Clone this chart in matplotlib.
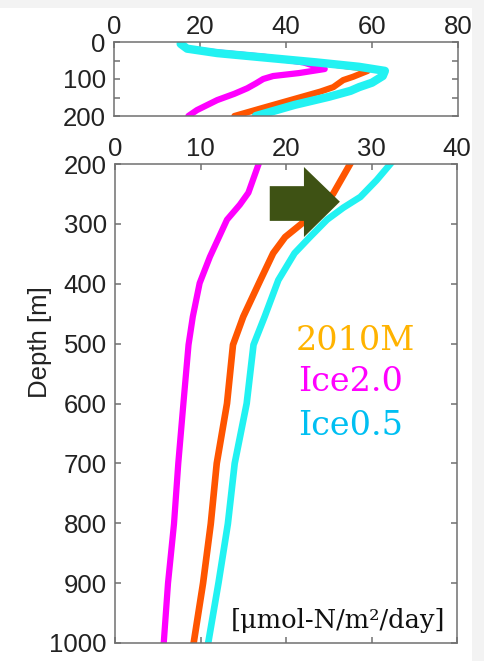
import numpy as np
import matplotlib
matplotlib.use("Agg")
import matplotlib.pyplot as plt
from matplotlib.patches import Rectangle, Polygon

plt.rcParams['font.family'] = ['Liberation Sans', 'DejaVu Sans']

# upper panel, 0-200 m
top_mag_d = [5, 18, 28, 40, 55, 73, 84, 92, 100, 112, 125, 140, 157, 184, 200]
top_mag_x = [15.5, 17, 24, 35, 44, 49, 43, 37, 34.7, 33, 31, 28, 24, 19.3, 17.3]
top_org_d = [5, 18, 30, 42, 55, 70, 78, 94, 103, 122, 134, 157, 180, 200]
top_org_x = [15.5, 17, 24, 35, 47, 57, 59, 55.6, 53.3, 51, 48, 41, 34, 28]
top_cyn_d = [5, 18, 30, 42, 55, 67, 78, 92, 110, 122, 132, 148, 170, 200]
top_cyn_x = [15.5, 17, 24, 35, 47, 57, 63, 62.5, 60, 57, 55, 50, 42, 33]

# lower panel, 200-1000 m
bot_mag_d = [200, 248, 268, 293, 355, 399, 455, 502, 600, 700, 801, 900, 1000]
bot_mag_x = [16.8, 15.6, 14.6, 13.1, 11.1, 9.9, 9.1, 8.6, 8.0, 7.4, 6.9, 6.2, 5.7]
bot_org_d = [200, 250, 300, 322, 349, 394, 455, 502, 600, 700, 801, 900, 1000]
bot_org_x = [27.5, 25.5, 21.8, 19.9, 18.5, 17.0, 15.0, 13.8, 13.1, 11.9, 11.2, 10.3, 9.2]
bot_cyn_d = [200, 227, 255, 273, 293, 322, 349, 394, 455, 502, 600, 700, 801, 900, 1000]
bot_cyn_x = [32.2, 30.6, 28.7, 26.7, 24.8, 22.8, 21.0, 19.1, 17.5, 16.2, 15.4, 14.0, 13.2, 12.1, 10.9]

names = ['2010M', 'Ice2.0', 'Ice0.5']
name_colors = ['#ffb300', '#ff00ff', '#00bff2']

c_mag = '#ff00ff'
c_org = '#ff5500'
c_cyn = '#22f2f2'
spine_c = '#707070'

fig = plt.figure(figsize=(4.84, 6.61), dpi=100, facecolor='#f3f3f3')
fig.patches.append(Rectangle((0, 0), 472/484, 1 - 8/661, transform=fig.transFigure,
                             facecolor='white', edgecolor='none', zorder=-10))

ax1 = fig.add_axes([114/484, 1 - 116/661, 344/484, 74/661])
ax2 = fig.add_axes([115/484, 1 - 643/661, 342/484, 479/661])

ax1.plot(top_mag_x, top_mag_d, color=c_mag, lw=4.5, solid_capstyle='round')
ax1.plot(top_org_x, top_org_d, color=c_org, lw=4.5, solid_capstyle='round')
ax1.plot(top_cyn_x, top_cyn_d, color=c_cyn, lw=6, solid_capstyle='round')
ax1.set_xlim(0, 80)
ax1.set_ylim(200, 0)
ax1.set_xticks([0, 20, 40, 60, 80])
ax1.set_yticks([0, 100, 200])
ax1.set_yticks([50, 150], minor=True)

ax2.plot(bot_mag_x, bot_mag_d, color=c_mag, lw=4.5)
ax2.plot(bot_org_x, bot_org_d, color=c_org, lw=4.8)
ax2.plot(bot_cyn_x, bot_cyn_d, color=c_cyn, lw=4.8)
ax2.set_xlim(0, 40)
ax2.set_ylim(1000, 200)
ax2.set_xticks([0, 10, 20, 30, 40])
ax2.set_yticks(np.arange(200, 1001, 100))
ax2.set_ylabel('Depth [m]', fontsize=18.5, color='#222222')
ax2.yaxis.set_label_coords(-0.184, 0.628)

for ax in (ax1, ax2):
    for s in ax.spines.values():
        s.set_color(spine_c)
        s.set_linewidth(1.1)
    ax.xaxis.tick_top()
    ax.tick_params(which='both', direction='in', length=4, width=1.1, color=spine_c,
                   labelsize=18.5, labelcolor='#222222', pad=6,
                   left=True, right=True, top=True)
    ax.tick_params(axis='x', pad=2.5)
ax1.tick_params(which='both', bottom=False)
ax2.tick_params(which='both', bottom=True)

# arrow
arrow = Polygon([(18.1, 237), (22.1, 237), (22.1, 205), (26.3, 263),
                 (22.1, 322), (22.1, 295), (18.1, 295)],
                closed=True, facecolor='#3e5214', edgecolor='none', zorder=5)
ax2.add_patch(arrow)

ys = [0.630, 0.544, 0.454]
xs = [0.702, 0.690, 0.690]
for n, c, x, y in zip(names, name_colors, xs, ys):
    ax2.text(x, y, n, transform=ax2.transAxes, color=c, fontsize=24,
             family='DejaVu Serif', ha='center', va='center')

ax2.text(0.965, 0.048, '[μmol-N/m²/day]', transform=ax2.transAxes, fontsize=18.5,
         family='DejaVu Serif', ha='right', va='center', color='#111111')

fig.savefig('out.png', dpi=100, facecolor=fig.get_facecolor())
